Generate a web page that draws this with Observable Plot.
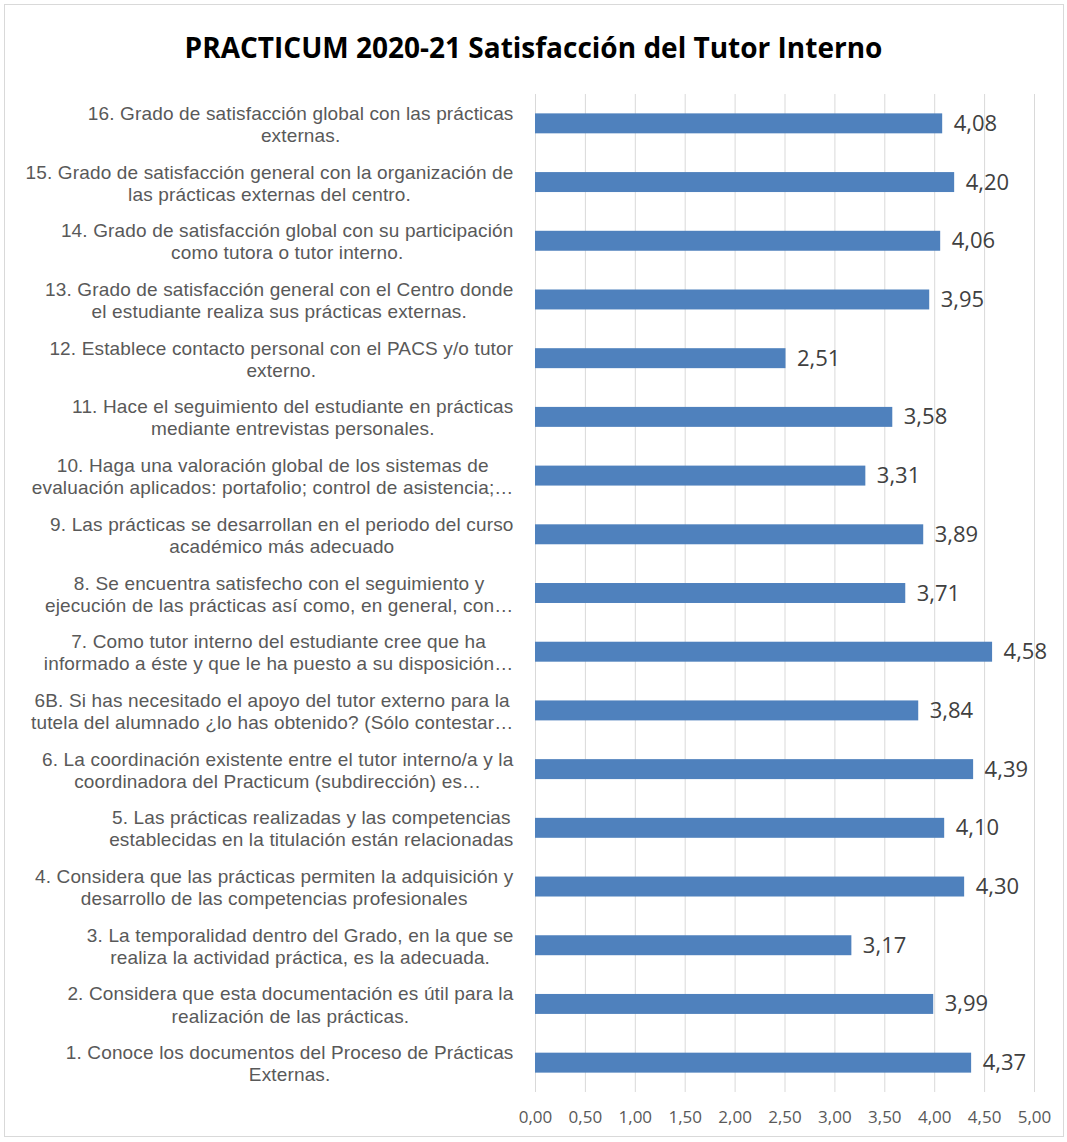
<!DOCTYPE html>
<html>
<head>
<meta charset="utf-8">
<script src="https://cdn.jsdelivr.net/npm/d3@7"></script>
<script src="https://cdn.jsdelivr.net/npm/@observablehq/plot@0.6"></script>
<style>
  html, body { margin: 0; padding: 0; background: #fff; }
  body { width: 1067px; height: 1142px; position: relative; overflow: hidden; font-family: "Open Sans", sans-serif; }
  #frame { position: absolute; left: 4px; top: 4px; width: 1060px; height: 1133px; border: 1px solid #d9d9d9; box-sizing: border-box; }
  #title { position: absolute; left: 0; top: 27px; width: 1067px; text-align: center; font-size: 28px; font-weight: bold; color: #000; line-height: 40px; }
  #chart { position: absolute; left: 0; top: 80px; }
</style>
</head>
<body>
<div id="frame"></div>
<div id="title">PRACTICUM 2020-21 Satisfacción del Tutor Interno</div>
<div id="chart"></div>
<script>
const categories = [
  "16. Grado de satisfacción global con las prácticas\nexternas.",
  "15. Grado de satisfacción general con la organización de\nlas prácticas externas del centro.",
  "14. Grado de satisfacción global con su participación\ncomo tutora o tutor interno.",
  "13. Grado de satisfacción general con el Centro donde\nel estudiante realiza sus prácticas externas.",
  "12. Establece contacto personal con el PACS y/o tutor\nexterno.",
  "11. Hace el seguimiento del estudiante en prácticas\nmediante entrevistas personales.",
  "10. Haga una valoración global de los sistemas de\nevaluación aplicados: portafolio; control de asistencia;…",
  "9. Las prácticas se desarrollan en el periodo del curso\nacadémico más adecuado",
  "8. Se encuentra satisfecho con el seguimiento y\nejecución de las prácticas así como, en general, con…",
  "7. Como tutor interno del estudiante cree que ha\ninformado a éste y que le ha puesto a su disposición…",
  "6B. Si has necesitado el apoyo del tutor externo para la\ntutela del alumnado ¿lo has obtenido? (Sólo contestar…",
  "6. La coordinación existente entre el tutor interno/a y la\ncoordinadora del Practicum (subdirección) es…",
  "5. Las prácticas realizadas y las competencias\nestablecidas en la titulación están relacionadas",
  "4. Considera que las prácticas permiten la adquisición y\ndesarrollo de las competencias profesionales",
  "3. La temporalidad dentro del Grado, en la que se\nrealiza la actividad práctica, es la adecuada.",
  "2. Considera que esta documentación es útil para la\nrealización de las prácticas.",
  "1. Conoce los documentos del Proceso de Prácticas\nExternas."
];
const values = [4.08, 4.20, 4.06, 3.95, 2.51, 3.58, 3.31, 3.89, 3.71, 4.58, 3.84, 4.39, 4.10, 4.30, 3.17, 3.99, 4.37];
const xTicks = [0, 0.5, 1, 1.5, 2, 2.5, 3, 3.5, 4, 4.5, 5];

const data = categories.map((c, i) => ({label: c, value: values[i]}));
const fmt = d => d.toFixed(2).replace(".", ",");

const chart = Plot.plot({
  width: 1067,
  height: 1062,
  marginTop: 14,
  marginBottom: 50,
  marginLeft: 535,
  marginRight: 33,
  style: {fontFamily: "'Open Sans', sans-serif", background: "transparent"},
  x: {domain: [0, 5], ticks: xTicks},
  y: {domain: categories, paddingInner: 0.66, paddingOuter: 0.33, align: 0.5, round: false},
  marks: [
    Plot.gridX(xTicks, {stroke: "#d9d9d9", strokeOpacity: 1, strokeWidth: 1}),
    Plot.barX(data, {x: "value", y: "label", fill: "#4F81BD"}),
    Plot.text(data, {x: "value", y: "label", text: d => fmt(d.value), dx: 11, textAnchor: "start", fontSize: 22, fill: "#404040"}),
    Plot.axisX({ticks: xTicks, tickFormat: fmt, tickSize: 0, tickPadding: 18, fontSize: 17, color: "#595959", label: null}),
    Plot.axisY({tickSize: 0, tickPadding: 22, fontSize: 19, fontFamily: "'Liberation Sans', Arial, sans-serif", color: "#595959", label: null, lineHeight: 1.16, textOverflow: null})
  ]
});
document.getElementById("chart").appendChild(chart);

// Excel-style: each wrapped label block right-aligned, lines centered within block
d3.select(chart).selectAll('g[aria-label="y-axis tick label"] text').each(function() {
  const t = d3.select(this);
  t.style("letter-spacing", "0.15px");
  const w = this.getBBox().width;
  t.attr("text-anchor", "middle");
  t.attr("transform", (t.attr("transform") || "") + ` translate(${-w / 2},0)`);
});
</script>
</body>
</html>
